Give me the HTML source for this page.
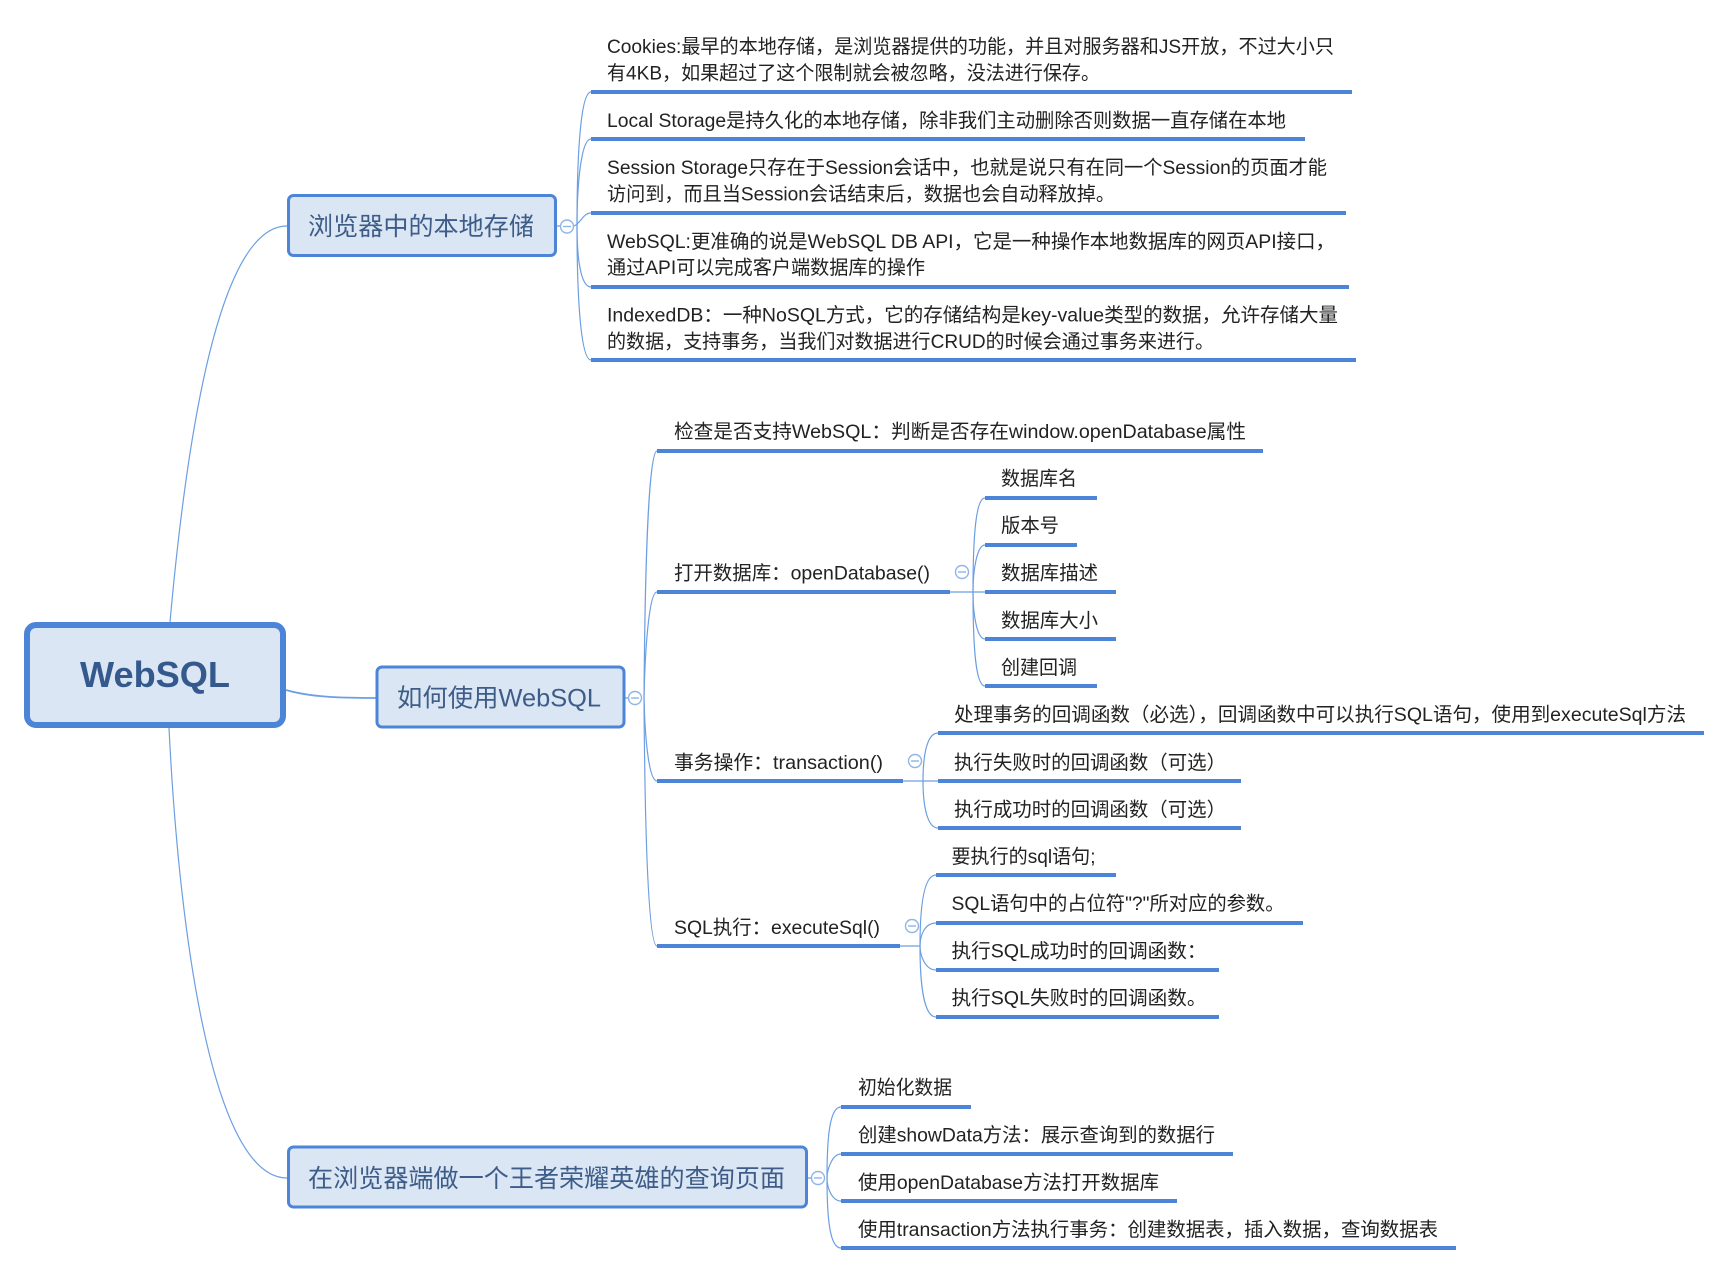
<!DOCTYPE html>
<html lang="zh-CN"><head><meta charset="utf-8"><title>WebSQL</title>
<style>
html,body{margin:0;padding:0;background:#fff;width:1730px;height:1273px;overflow:hidden}
svg{display:block}
text{font-family:"Liberation Sans","Noto Sans CJK SC",sans-serif;font-size:19.4px;fill:#222}
.c{fill:none;stroke:#6c9fe2;stroke-width:1.2}
.l{stroke:#4c85d8;stroke-width:4}
.b{fill:#dbe6f5;stroke:#4c85d8;stroke-width:3}
.t{font-size:25px;fill:#3d5d88}
.o{fill:#fff;stroke:#8fb5e8;stroke-width:1.4}
.m{stroke:#8fb5e8;stroke-width:1.4}
</style></head><body>
<svg width="1730" height="1273" viewBox="0 0 1730 1273" xmlns="http://www.w3.org/2000/svg">
<!-- root connectors -->
<path class="c" d="M170,622 C190,400 225,226 287,226"/>
<path class="c" d="M169,728 C180,950 215,1178 287,1178"/>
<path class="c" style="stroke-width:1.8" d="M286,690 C310,697 340,698 376,698"/>
<!-- group 1 connectors -->
<path class="c" d="M556,226 H560 M577,226 C577,150 581,92 591,92"/>
<path class="c" d="M577,226 C577,185 581,139 591,139"/>
<path class="c" d="M574,226 C581,223 583,213 591,213"/>
<path class="c" d="M577,226 C577,260 581,287 591,287"/>
<path class="c" d="M577,226 C577,300 581,360 591,360"/>
<!-- group 2 connectors -->
<path class="c" d="M624,698 H628 M644,698 C645,560 649,451 657,451"/>
<path class="c" d="M644,698 C645,650 649,592 657,592"/>
<path class="c" d="M644,698 C645,740 649,781 657,781"/>
<path class="c" d="M644,698 C645,850 649,946 657,946"/>
<!-- open db -->
<path class="c" d="M950,592 H985"/>
<path class="c" d="M973,592 C973,535 976,498 985,498"/>
<path class="c" d="M973,592 C973,570 977,545 985,545"/>
<path class="c" d="M973,592 C973,615 977,639 985,639"/>
<path class="c" d="M973,592 C973,650 976,686 985,686"/>
<!-- transaction -->
<path class="c" d="M903,781 H938"/>
<path class="c" d="M923,781 C923,755 927,733 938,733"/>
<path class="c" d="M923,781 C923,805 927,828 938,828"/>
<!-- executeSql -->
<path class="c" d="M900,946 H920"/>
<path class="c" d="M920,946 C920,905 924,875 936,875"/>
<path class="c" d="M920,946 C920,935 925,923 936,923"/>
<path class="c" d="M920,946 C920,955 925,970 936,970"/>
<path class="c" d="M920,946 C920,985 924,1017 936,1017"/>
<!-- group 3 -->
<path class="c" d="M807,1178 H811 M827,1178 C827,1135 830,1107 841,1107"/>
<path class="c" d="M827,1178 C827,1170 832,1154 841,1154"/>
<path class="c" d="M827,1178 C827,1188 832,1201 841,1201"/>
<path class="c" d="M827,1178 C827,1220 830,1248 841,1248"/>
<!-- underlines -->
<g class="l">
<line x1="591" y1="92" x2="1352" y2="92"/>
<line x1="591" y1="139" x2="1305" y2="139"/>
<line x1="591" y1="213" x2="1346" y2="213"/>
<line x1="591" y1="287" x2="1349" y2="287"/>
<line x1="591" y1="360" x2="1356" y2="360"/>
<line x1="657" y1="451" x2="1263" y2="451"/>
<line x1="657" y1="592" x2="950" y2="592"/>
<line x1="657" y1="781" x2="903" y2="781"/>
<line x1="657" y1="946" x2="900" y2="946"/>
<line x1="985" y1="498" x2="1097" y2="498"/>
<line x1="985" y1="545" x2="1077" y2="545"/>
<line x1="985" y1="592" x2="1116" y2="592"/>
<line x1="985" y1="639" x2="1116" y2="639"/>
<line x1="985" y1="686" x2="1097" y2="686"/>
<line x1="938" y1="733" x2="1704" y2="733"/>
<line x1="938" y1="781" x2="1241" y2="781"/>
<line x1="938" y1="828" x2="1241" y2="828"/>
<line x1="936" y1="875" x2="1116" y2="875"/>
<line x1="936" y1="923" x2="1303" y2="923"/>
<line x1="936" y1="970" x2="1219" y2="970"/>
<line x1="936" y1="1017" x2="1219" y2="1017"/>
<line x1="841" y1="1107" x2="971" y2="1107"/>
<line x1="841" y1="1154" x2="1233" y2="1154"/>
<line x1="841" y1="1201" x2="1177" y2="1201"/>
<line x1="841" y1="1248" x2="1456" y2="1248"/>
</g>
<!-- boxes -->
<rect x="27" y="625" width="256" height="100" rx="9" fill="#dbe6f5" stroke="#4c85d8" stroke-width="6"/>
<text x="80" y="687" textLength="150" lengthAdjust="spacingAndGlyphs" style="font-size:36px;font-weight:bold;fill:#34598c">WebSQL</text>
<rect class="b" x="288.5" y="195.5" width="267" height="60" rx="5"/>
<text class="t" x="308" y="235" textLength="226" lengthAdjust="spacingAndGlyphs">浏览器中的本地存储</text>
<rect class="b" x="377" y="667" width="247" height="60" rx="5"/>
<text class="t" x="397" y="706.5" textLength="204" lengthAdjust="spacingAndGlyphs">如何使用WebSQL</text>
<rect class="b" x="288.5" y="1147" width="518" height="60" rx="5"/>
<text class="t" x="308" y="1187" textLength="477" lengthAdjust="spacingAndGlyphs">在浏览器端做一个王者荣耀英雄的查询页面</text>
<!-- collapse circles -->
<g>
<circle class="o" cx="567" cy="226.5" r="6.5"/><line class="m" x1="563" y1="226.5" x2="571" y2="226.5"/>
<circle class="o" cx="635" cy="698" r="6.5"/><line class="m" x1="631" y1="698" x2="639" y2="698"/>
<circle class="o" cx="962" cy="572" r="6.5"/><line class="m" x1="958" y1="572" x2="966" y2="572"/>
<circle class="o" cx="915" cy="761" r="6.5"/><line class="m" x1="911" y1="761" x2="919" y2="761"/>
<circle class="o" cx="912" cy="926" r="6.5"/><line class="m" x1="908" y1="926" x2="916" y2="926"/>
<circle class="o" cx="818" cy="1178" r="6.5"/><line class="m" x1="814" y1="1178" x2="822" y2="1178"/>
</g>
<!-- labels -->
<text x="607" y="53" textLength="727" lengthAdjust="spacingAndGlyphs">Cookies:最早的本地存储&#xFF0C;是浏览器提供的功能&#xFF0C;并且对服务器和JS开放&#xFF0C;不过大小只</text>
<text x="607" y="79.5" textLength="493" lengthAdjust="spacingAndGlyphs">有4KB&#xFF0C;如果超过了这个限制就会被忽略&#xFF0C;没法进行保存。</text>
<text x="607" y="127" textLength="679" lengthAdjust="spacingAndGlyphs">Local Storage是持久化的本地存储&#xFF0C;除非我们主动删除否则数据一直存储在本地</text>
<text x="607" y="174" textLength="720" lengthAdjust="spacingAndGlyphs">Session Storage只存在于Session会话中&#xFF0C;也就是说只有在同一个Session的页面才能</text>
<text x="607" y="200.5" textLength="508" lengthAdjust="spacingAndGlyphs">访问到&#xFF0C;而且当Session会话结束后&#xFF0C;数据也会自动释放掉。</text>
<text x="607" y="248" textLength="728" lengthAdjust="spacingAndGlyphs">WebSQL:更准确的说是WebSQL DB API&#xFF0C;它是一种操作本地数据库的网页API接口&#xFF0C;</text>
<text x="607" y="274" textLength="318" lengthAdjust="spacingAndGlyphs">通过API可以完成客户端数据库的操作</text>
<text x="607" y="321.5" textLength="731" lengthAdjust="spacingAndGlyphs">IndexedDB&#xFF1A;一种NoSQL方式&#xFF0C;它的存储结构是key-value类型的数据&#xFF0C;允许存储大量</text>
<text x="607" y="348" textLength="607" lengthAdjust="spacingAndGlyphs">的数据&#xFF0C;支持事务&#xFF0C;当我们对数据进行CRUD的时候会通过事务来进行。</text>
<text x="674" y="438" textLength="572" lengthAdjust="spacingAndGlyphs">检查是否支持WebSQL&#xFF1A;判断是否存在window.openDatabase属性</text>
<text x="674" y="579.5" textLength="256" lengthAdjust="spacingAndGlyphs">打开数据库&#xFF1A;openDatabase()</text>
<text x="674" y="769" textLength="209" lengthAdjust="spacingAndGlyphs">事务操作&#xFF1A;transaction()</text>
<text x="674" y="934" textLength="206" lengthAdjust="spacingAndGlyphs">SQL执行&#xFF1A;executeSql()</text>
<text x="1001" y="485" textLength="76" lengthAdjust="spacingAndGlyphs">数据库名</text>
<text x="1001" y="532" textLength="58" lengthAdjust="spacingAndGlyphs">版本号</text>
<text x="1001" y="579.5" textLength="97" lengthAdjust="spacingAndGlyphs">数据库描述</text>
<text x="1001" y="627" textLength="97" lengthAdjust="spacingAndGlyphs">数据库大小</text>
<text x="1001" y="674" textLength="76" lengthAdjust="spacingAndGlyphs">创建回调</text>
<text x="954" y="721" textLength="732" lengthAdjust="spacingAndGlyphs">处理事务的回调函数&#xFF08;必选&#xFF09;&#xFF0C;回调函数中可以执行SQL语句&#xFF0C;使用到executeSql方法</text>
<text x="954" y="769" textLength="272" lengthAdjust="spacingAndGlyphs">执行失败时的回调函数&#xFF08;可选&#xFF09;</text>
<text x="954" y="816" textLength="272" lengthAdjust="spacingAndGlyphs">执行成功时的回调函数&#xFF08;可选&#xFF09;</text>
<text x="951.5" y="863" textLength="144" lengthAdjust="spacingAndGlyphs">要执行的sql语句;</text>
<text x="951.5" y="910" textLength="333" lengthAdjust="spacingAndGlyphs">SQL语句中的占位符"?"所对应的参数。</text>
<text x="951.5" y="957.5" textLength="255" lengthAdjust="spacingAndGlyphs">执行SQL成功时的回调函数&#xFF1A;</text>
<text x="951.5" y="1004.5" textLength="255" lengthAdjust="spacingAndGlyphs">执行SQL失败时的回调函数。</text>
<text x="858" y="1094" textLength="94" lengthAdjust="spacingAndGlyphs">初始化数据</text>
<text x="858" y="1141.5" textLength="357" lengthAdjust="spacingAndGlyphs">创建showData方法&#xFF1A;展示查询到的数据行</text>
<text x="858" y="1189" textLength="301" lengthAdjust="spacingAndGlyphs">使用openDatabase方法打开数据库</text>
<text x="858" y="1236" textLength="580" lengthAdjust="spacingAndGlyphs">使用transaction方法执行事务&#xFF1A;创建数据表&#xFF0C;插入数据&#xFF0C;查询数据表</text>
</svg>
</body></html>
